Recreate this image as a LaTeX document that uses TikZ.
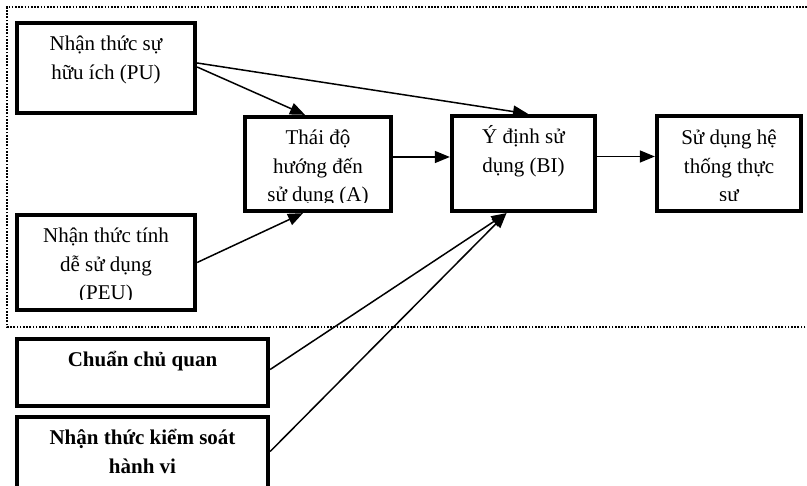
\documentclass[tikz,border=0pt]{standalone}
\usepackage{fontspec}
\setmainfont{Liberation Serif}
\usetikzlibrary{arrows.meta}
\begin{document}
\begin{tikzpicture}[x=1pt,y=1pt,
  box/.style={draw, line width=3.8pt, inner sep=0pt},
  label/.style={anchor=north, align=center, inner sep=0pt,
    font=\fontsize{21}{28.5}\selectfont},
  link/.style={line width=1.5pt, -{Triangle[length=15pt,width=12pt]}},
  frame/.style={line width=2.2pt, dash pattern=on 1.7pt off 1.5pt}]
\useasboundingbox (0,0) rectangle (807,486);

% dotted boundary of the TAM part
\draw[frame] (815,159) -- (7,159) -- (7,479) -- (815,479);

% boxes
\node[box, minimum width=178.5pt, minimum height=90.5pt] (pu)  at (106,418)   {};
\node[box, minimum width=146.5pt, minimum height=94.5pt] (att) at (318,322)   {};
\node[box, minimum width=178.5pt, minimum height=95.5pt] (peu) at (106,223.5) {};
\node[box, minimum width=143.5pt, minimum height=95.5pt] (bi)  at (523.5,322.5) {};
\node[box, minimum width=144.5pt, minimum height=95.5pt] (use) at (729,322.5) {};
\node[box, minimum width=251.5pt, minimum height=67.5pt] (sn)  at (142.5,113.5) {};
\node[box, minimum width=251.5pt, minimum height=73.5pt] (pbc) at (142.5,32.5)  {};

% box texts (top aligned, cut off at the inner margin)
\node[label] (tpu) at ([yshift=-10pt]pu.north) {\strut Nhận thức sự\\hữu ích (PU)};
\begin{scope}
  \clip ([shift={(2,11)}]att.south west) rectangle ([shift={(-2,-2)}]att.north east);
  \node[label] (tatt) at ([yshift=-10pt]att.north) {\strut Thái độ\\hướng đến\\sử dụng (A)};
\end{scope}
\begin{scope}
  \clip ([shift={(2,13)}]peu.south west) rectangle ([shift={(-2,-2)}]peu.north east);
  \node[label] (tpeu) at ([yshift=-10pt]peu.north) {\strut Nhận thức tính\\dễ sử dụng\\(PEU)};
\end{scope}
\node[label] (tbi) at ([yshift=-10pt]bi.north) {\strut Ý định sử\\dụng (BI)};
\begin{scope}
  \clip ([shift={(2,13.1)}]use.south west) rectangle ([shift={(-2,-2)}]use.north east);
  \node[label] (tuse) at ([yshift=-11pt]use.north) {\strut Sử dụng hệ\\thống thực\\sự};
\end{scope}
\node[label] (tsn) at ([yshift=-10pt]sn.north) {\strut\textbf{Chuẩn chủ quan}};
\node[label] (tpbc) at ([yshift=-10pt]pbc.north) {\strut\textbf{Nhận thức kiểm soát}\\\textbf{hành vi}};

% connectors
\draw[link] ([yshift=1pt]pu.east) -- ([xshift=-13pt]att.north);
\draw[link] ([yshift=5pt]pu.east) -- ([xshift=4.5pt]bi.north);
\draw[link] (peu.east) -- ([xshift=-15pt]att.south);
\draw[link] ([yshift=7pt]att.east) -- ([yshift=7pt]att.east -| bi.west);
\draw[link] ([yshift=7pt]bi.east) -- ([yshift=7pt]bi.east -| use.west);
\draw[link] ([yshift=3pt]sn.east) -- ([xshift=-17pt]bi.south);
\draw[link] ([yshift=2pt]pbc.east) -- ([xshift=-17pt]bi.south);
\end{tikzpicture}
\end{document}
